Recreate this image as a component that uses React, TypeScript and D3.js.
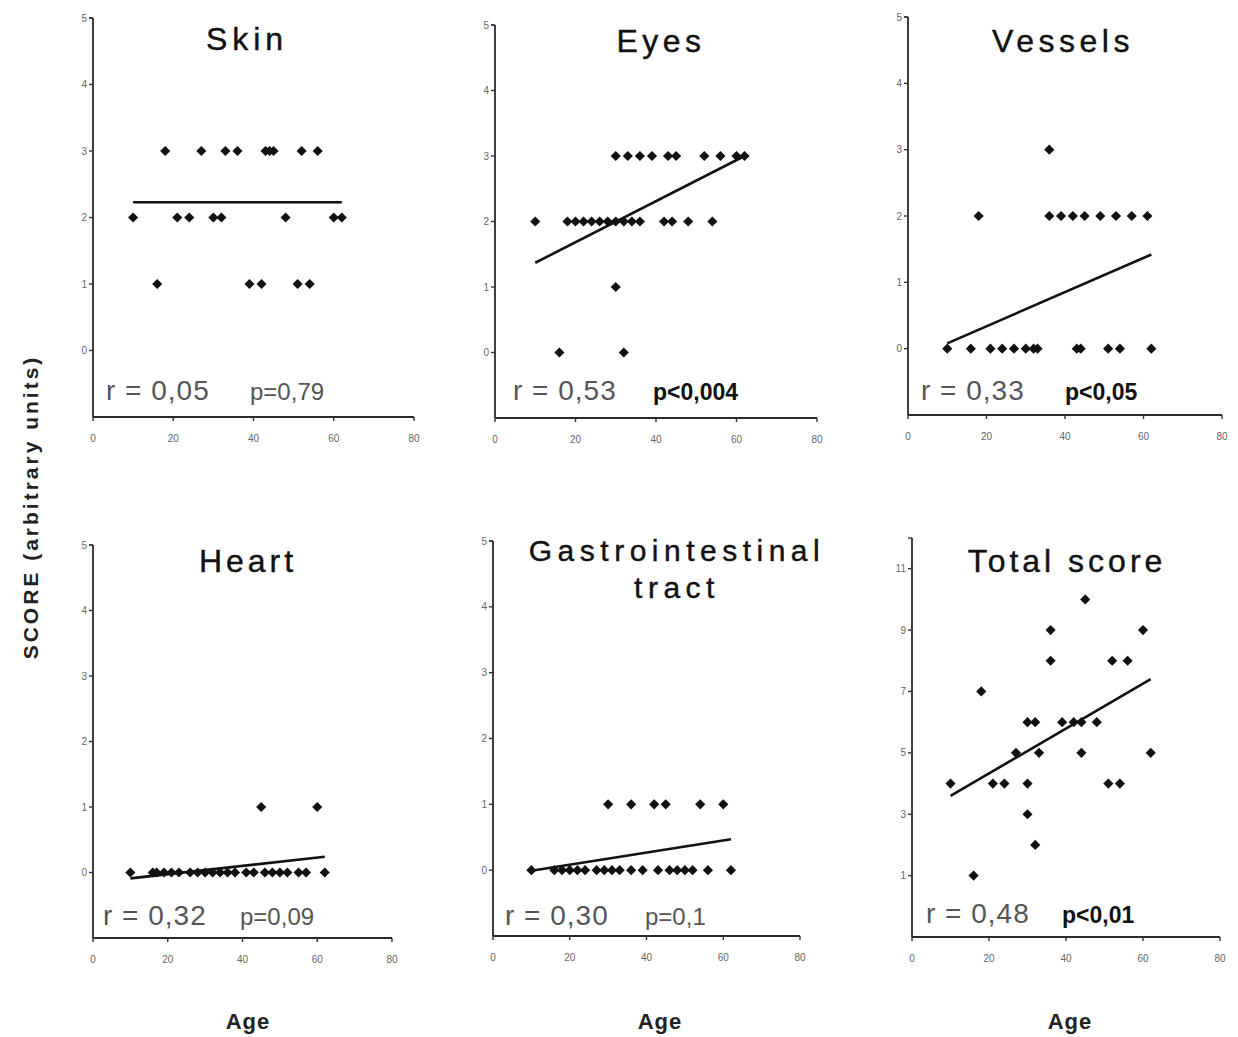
import React from "react";
import * as d3 from "d3";

// ---------- DATA ----------
const ageTicks = [0, 20, 40, 60, 80];
const organTicks = [0, 1, 2, 3, 4, 5];
const totalTicks = [1, 3, 5, 7, 9, 11];

const skinAge = [18, 27, 33, 36, 43, 44, 45, 52, 56, 10, 21, 24, 30, 32, 48, 60, 62, 16, 39, 42, 51, 54];
const skinScore = [3, 3, 3, 3, 3, 3, 3, 3, 3, 2, 2, 2, 2, 2, 2, 2, 2, 1, 1, 1, 1, 1];
const skinFit = [[10, 2.23], [62, 2.23]];

const eyesAge = [30, 33, 36, 39, 43, 45, 52, 56, 60, 62, 10, 18, 20, 22, 24, 26, 28, 30, 32, 34, 36, 42, 44, 48, 54, 30, 16, 32];
const eyesScore = [3, 3, 3, 3, 3, 3, 3, 3, 3, 3, 2, 2, 2, 2, 2, 2, 2, 2, 2, 2, 2, 2, 2, 2, 2, 1, 0, 0];
const eyesFit = [[10, 1.37], [62, 3.0]];

const vesselsAge = [36, 18, 36, 39, 42, 45, 49, 53, 57, 61, 10, 16, 21, 24, 27, 30, 32, 33, 43, 44, 51, 54, 62];
const vesselsScore = [3, 2, 2, 2, 2, 2, 2, 2, 2, 2, 0, 0, 0, 0, 0, 0, 0, 0, 0, 0, 0, 0, 0];
const vesselsFit = [[10, 0.08], [62, 1.42]];

const heartAge = [45, 60, 10, 16, 17, 19, 21, 23, 26, 28, 30, 32, 34, 36, 38, 41, 43, 46, 48, 50, 52, 55, 57, 62];
const heartScore = [1, 1, 0, 0, 0, 0, 0, 0, 0, 0, 0, 0, 0, 0, 0, 0, 0, 0, 0, 0, 0, 0, 0, 0];
const heartFit = [[10, -0.09], [62, 0.24]];

const giAge = [30, 36, 42, 45, 54, 60, 10, 16, 18, 20, 22, 24, 27, 29, 31, 33, 36, 39, 43, 46, 48, 50, 52, 56, 62];
const giScore = [1, 1, 1, 1, 1, 1, 0, 0, 0, 0, 0, 0, 0, 0, 0, 0, 0, 0, 0, 0, 0, 0, 0, 0, 0];
const giFit = [[10, -0.01], [62, 0.47]];

const totalAge = [10, 16, 18, 21, 24, 27, 30, 32, 30, 30, 32, 33, 36, 36, 39, 42, 44, 44, 45, 48, 51, 54, 52, 56, 60, 62];
const totalScore = [4, 1, 7, 4, 4, 5, 6, 6, 4, 3, 2, 5, 9, 8, 6, 6, 6, 5, 10, 6, 4, 4, 8, 8, 9, 5];
const totalFit = [[10, 3.6], [62, 7.4]];

const titles = [["Skin"], ["Eyes"], ["Vessels"], ["Heart"], ["Gastrointestinal", "tract"], ["Total score"]];
const rTexts = ["r = 0,05", "r = 0,53", "r = 0,33", "r = 0,32", "r = 0,30", "r = 0,48"];
const pTexts = ["p=0,79", "p<0,004", "p<0,05", "p=0,09", "p=0,1", "p<0,01"];
const pSignificant = [false, true, true, false, false, true];

// ---------- LAYOUT ----------
const layouts = [
  { xl: 93, xr: 414, yt: 18, yb: 417, yd: [-1, 5], ticks: organTicks, tx: 247, ty: [50], fs: 32, ls: 5, rx: 106, rb: 400, px: 250 },
  { xl: 495, xr: 817, yt: 25, yb: 418, yd: [-1, 5], ticks: organTicks, tx: 661, ty: [52], fs: 32, ls: 4.5, rx: 513, rb: 400, px: 653 },
  { xl: 908, xr: 1222, yt: 17, yb: 415, yd: [-1, 5], ticks: organTicks, tx: 1063, ty: [52], fs: 32, ls: 4.5, rx: 921, rb: 400, px: 1065 },
  { xl: 93, xr: 392, yt: 545, yb: 938, yd: [-1, 5], ticks: organTicks, tx: 248, ty: [572], fs: 32, ls: 4, rx: 103, rb: 925, px: 240 },
  { xl: 493, xr: 800, yt: 541, yb: 936, yd: [-1, 5], ticks: organTicks, tx: 677, ty: [561, 598], fs: 30, ls: 5.5, rx: 505, rb: 925, px: 645 },
  { xl: 912, xr: 1220, yt: 538, yb: 937, yd: [-1, 12], ticks: totalTicks, tx: 1067, ty: [572], fs: 32, ls: 4, rx: 926, rb: 923, px: 1062 },
];

const ages = [skinAge, eyesAge, vesselsAge, heartAge, giAge, totalAge];
const scores = [skinScore, eyesScore, vesselsScore, heartScore, giScore, totalScore];
const fits = [skinFit, eyesFit, vesselsFit, heartFit, giFit, totalFit];

const FONT = "'Liberation Sans', Arial, Helvetica, sans-serif";
const diamond = d3.symbol().type(d3.symbolDiamond2).size(66)();

function Panel({ i }: { i: number }) {
  const L = layouts[i];
  const x = d3.scaleLinear().domain([0, 80]).range([L.xl, L.xr]);
  const y = d3.scaleLinear().domain(L.yd).range([L.yb, L.yt]);
  const line = d3.line<number[]>().x((d) => x(d[0])).y((d) => y(d[1]));
  const a = ages[i];
  const s = scores[i];
  return (
    <g>
      <line x1={L.xl} x2={L.xl} y1={L.yb} y2={L.yt} stroke="#2a2a2a" strokeWidth={1.8} />
      <line x1={L.xl} x2={L.xr} y1={L.yb} y2={L.yb} stroke="#2a2a2a" strokeWidth={1.8} />
      <line x1={L.xl - 4} x2={L.xl} y1={L.yt} y2={L.yt} stroke="#333" strokeWidth={1.4} />
      {L.ticks.map((t) => (
        <g key={"yt" + t}>
          <line x1={L.xl - 4} x2={L.xl} y1={y(t)} y2={y(t)} stroke="#333" strokeWidth={1.4} />
          <text x={L.xl - 6} y={y(t) + 3.5} fontSize={10} textAnchor="end" fill="#666" fontFamily={FONT}>
            {t}
          </text>
        </g>
      ))}
      {ageTicks.map((t) => (
        <g key={"xt" + t}>
          <line x1={x(t)} x2={x(t)} y1={L.yb} y2={L.yb + 4} stroke="#333" strokeWidth={1.4} />
          <text x={x(t)} y={L.yb + 25} fontSize={10} textAnchor="middle" fill="#666" fontFamily={FONT}>
            {t}
          </text>
        </g>
      ))}
      {titles[i].map((tl, k) => (
        <text
          key={tl}
          x={L.tx}
          y={L.ty[k]}
          fontSize={L.fs}
          letterSpacing={L.ls}
          textAnchor="middle"
          fill="#111"
          stroke="#111"
          strokeWidth={0.4}
          fontFamily={FONT}
        >
          {tl}
        </text>
      ))}
      {a.map((v, k) => (
        <path key={k} d={diamond as string} transform={`translate(${x(v)},${y(s[k])})`} fill="#111" />
      ))}
      <path d={line(fits[i]) as string} fill="none" stroke="#111" strokeWidth={2.6} />
      <text x={L.rx} y={L.rb} fontSize={28} letterSpacing={1} fill="#555" fontFamily={FONT}>
        {rTexts[i]}
      </text>
      <text
        x={L.px}
        y={L.rb}
        fontSize={pSignificant[i] ? 23 : 24}
        fontWeight={pSignificant[i] ? "bold" : "normal"}
        fill={pSignificant[i] ? "#111" : "#555"}
        fontFamily={FONT}
      >
        {pTexts[i]}
      </text>
    </g>
  );
}

export default function App() {
  return (
    <svg
      width={1238}
      height={1037}
      viewBox="0 0 1238 1037"
      style={{ position: "absolute", left: 0, top: 0, background: "#fff" }}
    >
      <rect x={0} y={0} width={1238} height={1037} fill="#fff" />
      {layouts.map((_, i) => (
        <Panel key={i} i={i} />
      ))}
      <text
        transform="translate(38,507) rotate(-90)"
        textAnchor="middle"
        fontSize={21}
        fontWeight="bold"
        letterSpacing={3}
        fill="#222"
        fontFamily={FONT}
      >
        SCORE (arbitrary units)
      </text>
      {[248, 660, 1070].map((cx) => (
        <text key={cx} x={cx} y={1029} textAnchor="middle" fontSize={22} fontWeight="bold" letterSpacing={1} fill="#222" fontFamily={FONT}>
          Age
        </text>
      ))}
    </svg>
  );
}
